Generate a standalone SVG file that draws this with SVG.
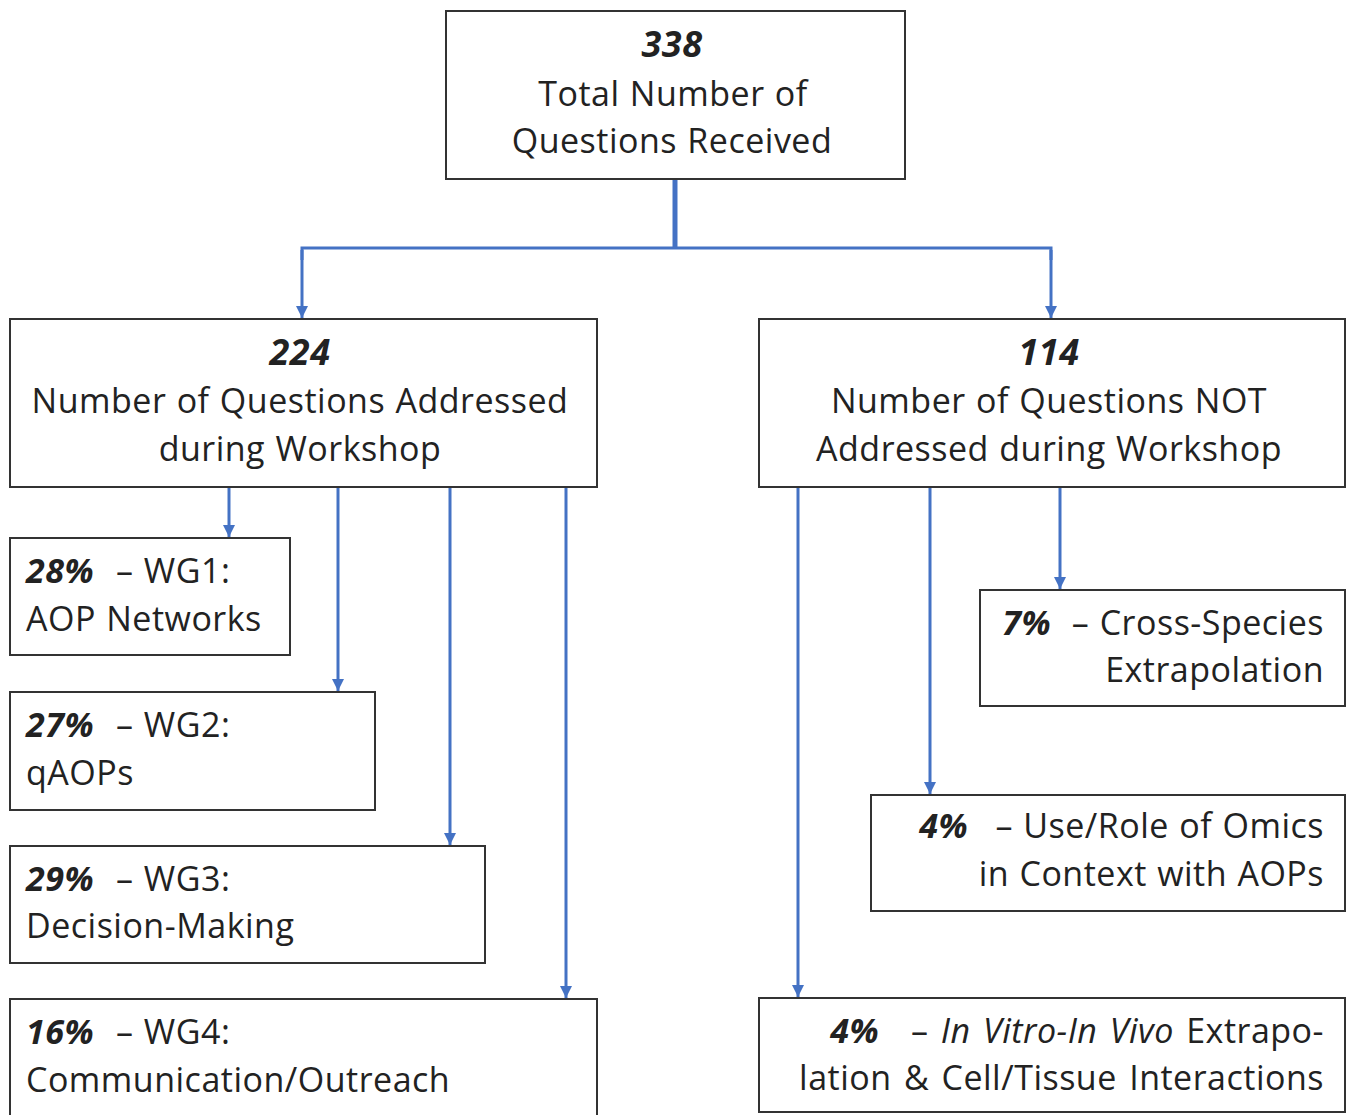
<svg xmlns="http://www.w3.org/2000/svg" width="1352" height="1115" viewBox="0 0 1352 1115">
<style>
.box{fill:#fff;stroke:#333;stroke-width:2}
text{font-family:"Open Sans","Noto Sans","Liberation Sans",sans-serif;font-size:34px;fill:#222;word-spacing:1px;letter-spacing:0.5px}
.bi{font-weight:bold;font-style:italic}
.n{font-size:36px}
.it{font-style:italic}
.c{text-anchor:middle}
.r{text-anchor:end}
.w{word-spacing:3px}
.ln{stroke:#4472C4;stroke-width:3;fill:none}
</style>
<defs>
<marker id="ah" markerUnits="userSpaceOnUse" markerWidth="14" markerHeight="14" viewBox="0 0 14 14" refX="12" refY="7" orient="auto">
<path d="M0,1 L12,7 L0,13 Z" fill="#4472C4"/>
</marker>
</defs>
<rect width="1352" height="1115" fill="#fff"/>
<g id="connectors">
<line class="ln" x1="675" y1="180" x2="675" y2="248" style="stroke-width:5"/>
<polyline class="ln" points="302,260 302,248 1051,248 1051,260"/>
<line class="ln" x1="302" y1="250" x2="302" y2="318" marker-end="url(#ah)"/>
<line class="ln" x1="1051" y1="250" x2="1051" y2="318" marker-end="url(#ah)"/>
<line class="ln" x1="229" y1="488" x2="229" y2="537" marker-end="url(#ah)"/>
<line class="ln" x1="338" y1="488" x2="338" y2="691" marker-end="url(#ah)"/>
<line class="ln" x1="450" y1="488" x2="450" y2="845" marker-end="url(#ah)"/>
<line class="ln" x1="566" y1="488" x2="566" y2="998" marker-end="url(#ah)"/>
<line class="ln" x1="798" y1="488" x2="798" y2="997" marker-end="url(#ah)"/>
<line class="ln" x1="930" y1="488" x2="930" y2="794" marker-end="url(#ah)"/>
<line class="ln" x1="1060" y1="488" x2="1060" y2="589" marker-end="url(#ah)"/>
</g>
<g id="n338">
<rect class="box" x="446" y="11" width="459" height="168"/>
<text class="c bi n" x="672" y="57">338</text>
<text class="c" x="673" y="106">Total Number of</text>
<text class="c" x="672" y="153">Questions Received</text>
</g>
<g id="n224">
<rect class="box" x="10" y="319" width="587" height="168"/>
<text class="c bi n" x="300" y="365">224</text>
<text class="c" x="300" y="413">Number of Questions Addressed</text>
<text class="c" x="300" y="461">during Workshop</text>
</g>
<g id="n114">
<rect class="box" x="759" y="319" width="586" height="168"/>
<text class="c bi n" x="1049" y="365">114</text>
<text class="c" x="1049" y="413">Number of Questions NOT</text>
<text class="c" x="1049" y="461">Addressed during Workshop</text>
</g>
<g id="wg1">
<rect class="box" x="10" y="538" width="280" height="117"/>
<text x="26" y="583"><tspan class="bi">28%</tspan><tspan x="116">– WG1:</tspan></text>
<text x="26" y="631">AOP Networks</text>
</g>
<g id="wg2">
<rect class="box" x="10" y="692" width="365" height="118"/>
<text x="26" y="737"><tspan class="bi">27%</tspan><tspan x="116">– WG2:</tspan></text>
<text x="26" y="785">qAOPs</text>
</g>
<g id="wg3">
<rect class="box" x="10" y="846" width="475" height="117"/>
<text x="26" y="891"><tspan class="bi">29%</tspan><tspan x="116">– WG3:</tspan></text>
<text x="26" y="938">Decision-Making</text>
</g>
<g id="wg4">
<rect class="box" x="10" y="999" width="587" height="130"/>
<text x="26" y="1044"><tspan class="bi">16%</tspan><tspan x="116">– WG4:</tspan></text>
<text x="26" y="1092">Communication/Outreach</text>
</g>
<g id="cross">
<rect class="box" x="980" y="590" width="365" height="116"/>
<text class="r" y="635"><tspan class="bi" x="1051">7%</tspan><tspan x="1324">– Cross-Species</tspan></text>
<text class="r" x="1324" y="682">Extrapolation</text>
</g>
<g id="omics">
<rect class="box" x="871" y="795" width="474" height="116"/>
<text class="r" y="838"><tspan class="bi" x="968">4%</tspan><tspan x="1324">– Use/Role of Omics</tspan></text>
<text class="r" x="1324" y="886">in Context with AOPs</text>
</g>
<g id="ivive">
<rect class="box" x="759" y="998" width="586" height="114"/>
<text class="r w" y="1043"><tspan class="bi" x="879">4%</tspan><tspan x="1324">– <tspan class="it">In Vitro-In Vivo</tspan> Extrapo-</tspan></text>
<text class="r w" x="1324" y="1090">lation &amp; Cell/Tissue Interactions</text>
</g>
</svg>
